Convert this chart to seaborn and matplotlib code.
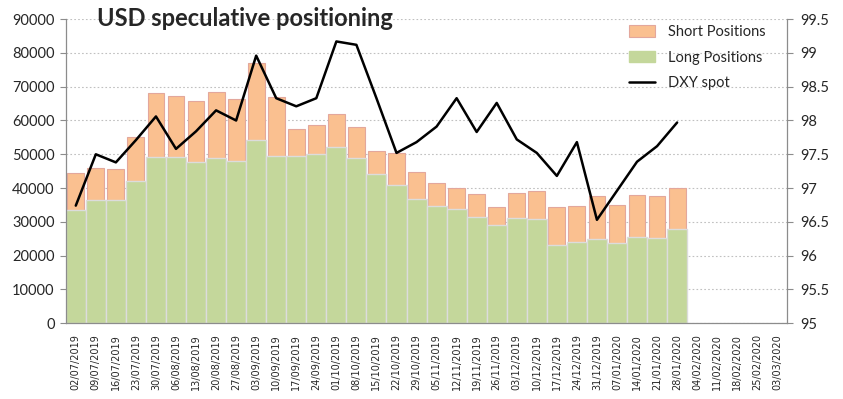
import numpy as np
import pandas as pd
import seaborn as sns
import matplotlib.pyplot as plt
from matplotlib.patches import Patch
from matplotlib.lines import Line2D

# weekly report dates (x axis categories)
dates = ['02/07/2019', '09/07/2019', '16/07/2019', '23/07/2019', '30/07/2019', '06/08/2019',
         '13/08/2019', '20/08/2019', '27/08/2019', '03/09/2019', '10/09/2019', '17/09/2019',
         '24/09/2019', '01/10/2019', '08/10/2019', '15/10/2019', '22/10/2019', '29/10/2019',
         '05/11/2019', '12/11/2019', '19/11/2019', '26/11/2019', '03/12/2019', '10/12/2019',
         '17/12/2019', '24/12/2019', '31/12/2019', '07/01/2020', '14/01/2020', '21/01/2020',
         '28/01/2020', '04/02/2020', '11/02/2020', '18/02/2020', '25/02/2020', '03/03/2020']

# contracts
long_pos = [33400, 36400, 36400, 42100, 49100, 49100, 47700, 48800, 47900, 54200, 49400,
            49400, 50200, 52300, 48800, 44100, 40900, 36900, 34800, 33800, 31400, 29000,
            31100, 30800, 23000, 24000, 24800, 23700, 25400, 25100, 28000]
short_pos = [11000, 9500, 9200, 13100, 19000, 18100, 18000, 19600, 18400, 22800, 17500,
             8100, 8400, 9600, 9200, 6900, 9400, 7800, 6700, 6200, 6900, 5400,
             7500, 8400, 11400, 10600, 12800, 11200, 12600, 12500, 12000]

# DXY spot (right axis)
dxy = [96.74, 97.50, 97.38, 97.71, 98.06, 97.58, 97.84, 98.15, 98.00, 98.96, 98.33,
       98.21, 98.33, 99.17, 99.12, 98.33, 97.52, 97.68, 97.91, 98.33, 97.83, 98.26,
       97.72, 97.52, 97.18, 97.68, 96.53, 96.96, 97.39, 97.62, 97.97]

n_pad = len(dates) - len(long_pos)
df = pd.DataFrame({
    'date': dates,
    'long': long_pos + [np.nan] * n_pad,
    'total': [l + s for l, s in zip(long_pos, short_pos)] + [np.nan] * n_pad,
})

sns.set_style('white')
plt.rcParams['font.family'] = ['Lato', 'DejaVu Sans']

ORANGE = '#FAC090'
GREEN = '#C4D79B'
GRAY = '#8c8c8c'

fig, ax = plt.subplots(figsize=(8.43, 3.99), dpi=100)
fig.subplots_adjust(left=0.078, right=0.934, bottom=0.19, top=0.952)

# short positions stacked on top of long: draw total first, long over it
sns.barplot(data=df, x='date', y='total', order=dates, color=ORANGE, width=0.84,
            edgecolor='#E3A79C', linewidth=0.8, saturation=1, errorbar=None, ax=ax)
sns.barplot(data=df, x='date', y='long', order=dates, color=GREEN, width=1.0,
            edgecolor='#dcdcdc', linewidth=1.0, saturation=1, errorbar=None, ax=ax)

ax.set_xlim(-0.5, len(dates) - 0.5)
ax.set_ylim(0, 90000)
ax.set_yticks(range(0, 90001, 10000))
ax.set_yticklabels([str(v) for v in range(0, 90001, 10000)], fontsize=10.5)
ax.set_xlabel('')
ax.set_ylabel('')
ax.set_xticks(range(len(dates)))
ax.set_xticklabels(dates, rotation=90, fontsize=7, family='DejaVu Sans')
ax.set_xticks(np.arange(-0.5, len(dates), 1), minor=True)
ax.tick_params(axis='x', which='major', length=0, pad=8)
ax.tick_params(axis='x', which='minor', length=4, color=GRAY, width=0.8)
ax.tick_params(axis='y', length=4, color=GRAY, width=0.8, pad=4)
ax.yaxis.grid(True, color='#c0c0c0', linestyle=(0, (1.5, 2)), linewidth=0.8)
ax.set_axisbelow(True)
for side in ['left', 'bottom']:
    ax.spines[side].set_color(GRAY)
    ax.spines[side].set_linewidth(0.9)
ax.spines['top'].set_visible(False)
ax.spines['right'].set_visible(False)

ax2 = ax.twinx()
sns.lineplot(x=np.arange(len(dxy)), y=dxy, color='black', linewidth=1.8, ax=ax2)
ax2.set_ylim(95, 99.5)
rticks = np.arange(95, 99.51, 0.5)
ax2.set_yticks(rticks)
ax2.set_yticklabels([f'{t:g}' for t in rticks], fontsize=10.5)
ax2.tick_params(axis='y', length=4, color=GRAY, width=0.8, pad=5)
ax2.spines['right'].set_color(GRAY)
ax2.spines['right'].set_linewidth(0.9)
for side in ['top', 'left', 'bottom']:
    ax2.spines[side].set_visible(False)
ax2.set_xlim(-0.5, len(dates) - 0.5)

handles = [Patch(facecolor=ORANGE, edgecolor='#E3A79C', linewidth=0.8),
           Patch(facecolor=GREEN, edgecolor=GREEN),
           Line2D([0], [0], color='black', linewidth=1.8)]
ax2.legend(handles, ['Short Positions', 'Long Positions', 'DXY spot'],
           loc='upper left', bbox_to_anchor=(616 / 843, 1 - 12 / 399),
           bbox_transform=fig.transFigure, frameon=False, fontsize=10.5,
           handlelength=1.8, handleheight=0.8, labelspacing=0.8, handletextpad=0.9)

fig.text(97 / 843, 1 - 7 / 399, 'USD speculative positioning', fontsize=17,
         fontweight='bold', va='top', ha='left')

plt.savefig('out.png', dpi=100)
